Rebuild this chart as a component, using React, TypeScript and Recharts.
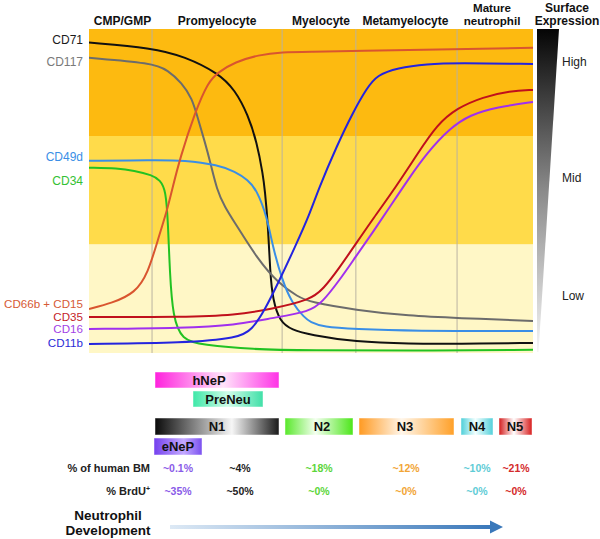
import React from "react";
import { ComposedChart, Line, XAxis, YAxis, ReferenceArea, ReferenceLine } from "recharts";

// ---- data (x: % of developmental time axis, y: relative surface expression 0-100) ----
const stageBounds = [0, 14.2, 43.5, 60.1, 82.9, 100];
const stageNames = ["CMP/GMP", "Promyelocyte", "Myelocyte", "Metamyelocyte", "Mature\nneutrophil"];
const expressionBands = [0, 33.6, 67, 100];
const expressionLevels = ["Low", "Mid", "High"];

const markerNames = ["CD71", "CD117", "CD49d", "CD34", "CD66b + CD15", "CD35", "CD16", "CD11b"];

const cd71 = [[0, 95.8], [14.2, 94.2], [21.6, 91.5], [29.1, 86.4], [32.9, 81.2], [35.8, 73.5], [37.8, 65.1], [39.2, 54.9], [39.6, 50.3], [40.3, 40.1], [40.8, 24.7], [41.4, 16.4], [43.0, 9.6], [45.7, 7.1], [49.8, 5.6], [59.9, 3.4], [72.3, 2.8], [82.9, 2.8], [100, 3.1]];
const cd117 = [[0, 91.1], [14.2, 89.5], [17.8, 87.3], [20.9, 83.3], [23.2, 78.7], [24.5, 72.5], [26.1, 65.1], [27.3, 59.0], [28.8, 50.3], [30.6, 45.0], [32.9, 40.1], [38.1, 28.7], [42.6, 21.6], [47.1, 17.3], [49.8, 15.7], [59.9, 13.3], [72.3, 11.4], [82.9, 10.8], [100, 9.9]];
const cd49d = [[0, 59.3], [14.2, 59.5], [21.6, 59.5], [29.1, 58.0], [32.9, 56.0], [35.8, 53.4], [37.8, 50.3], [40.1, 42.0], [41.4, 32.7], [43.5, 22.5], [45.7, 15.4], [48.6, 10.8], [49.8, 9.6], [52.7, 8.0], [59.9, 7.4], [72.3, 6.8], [100, 6.8]];
const cd34 = [[0, 57.2], [6.5, 57.0], [10.1, 56.3], [14.2, 54.9], [16.0, 53.4], [17.3, 50.3], [17.8, 40.1], [18.2, 24.7], [18.9, 11.1], [20.9, 4.0], [25.5, 2.5], [36.7, 1.1], [49.8, 0.8], [72.0, 0.7], [100, 1.0]];
const cd66bCd15 = [[0, 13.6], [5.2, 15.4], [10.4, 18.5], [13.3, 24.7], [15.5, 34.9], [17.6, 44.1], [18.7, 50.3], [20.5, 60.2], [23.9, 74.4], [26.8, 83.6], [29.1, 86.7], [32.9, 89.8], [38.1, 92.0], [43.5, 92.9], [49.8, 93.0], [59.9, 93.2], [82.9, 93.8], [100, 94.2]];
const cd35 = [[0, 11.1], [21.6, 11.1], [32.9, 11.7], [41.2, 13.6], [49.8, 16.4], [52.7, 19.6], [56.5, 26.5], [60.0, 33.5], [64.0, 41.5], [69.0, 51.0], [74.0, 61.5], [78.4, 70.5], [82.9, 75.6], [88.7, 79.0], [94.8, 80.9], [100, 81.2]];
const cd16 = [[0, 7.4], [21.6, 7.7], [32.9, 8.6], [41.2, 10.8], [49.8, 12.8], [52.5, 15.6], [56.5, 22.6], [60.0, 29.6], [64.0, 37.4], [68.0, 45.6], [72.0, 53.8], [76.1, 61.7], [81.3, 69.4], [85.8, 73.5], [91.9, 75.9], [100, 77.5]];
const cd11b = [[0, 2.8], [21.6, 3.1], [33.6, 4.6], [36.7, 7.1], [39.6, 13.3], [42.6, 21.6], [46.4, 32.7], [49.8, 43.2], [51.6, 50.3], [55.9, 64.2], [59.5, 74.4], [62.6, 81.8], [64.9, 85.8], [69.4, 88.0], [76.1, 89.2], [82.9, 89.5], [100, 89.2]];

const subsetNames = ["hNeP", "PreNeu", "N1", "eNeP", "N2", "N3", "N4", "N5"];
const rowTitles = ["% of human BM", "% BrdU"];
const bmPercent = ["~0.1%", "~4%", "~18%", "~12%", "~10%", "~21%"];
const brduPercent = ["~35%", "~50%", "~0%", "~0%", "~0%", "~0%"];
const axisTitle = ["Neutrophil", "Development"];
const expressionTitle = ["Surface", "Expression"];

const markerSeries = [cd71, cd117, cd49d, cd34, cd66bCd15, cd35, cd16, cd11b];

export default function App() {
  const W = 600, H = 539;
  const plot = { left: 89, top: 29, right: 533, bottom: 353 };
  const sx = (v: number) => plot.left + (v / 100) * (plot.right - plot.left);
  const font = "'Liberation Sans', Arial, Helvetica, sans-serif";

  const lineColors = ["#111111", "#6c6c6c", "#3a8ee6", "#22c222", "#d9552f", "#c0101c", "#a030ee", "#2424de"];
  const labelColors = ["#1a1a1a", "#7a7a7a", "#3b8fe6", "#33c133", "#d65a35", "#c41e2a", "#a23fe6", "#2b2bd6"];
  const labelY = [44, 66, 161, 185, 307.5, 320.5, 333, 346.5];
  const labelSize = [12, 12, 12, 12, 11.6, 11.6, 11.6, 11.6];
  const bandFills = ["#fff7c6", "#ffdb4a", "#fdba10"];
  const levelY = [300, 182, 66];
  const headerShift = [2, 0, 2, -1, -3];

  const boxes = [
    { x: 155, y: 372, w: 124, h: 16, grad: "gH", tx: 209 },
    { x: 193, y: 391, w: 70, h: 16, grad: "gP", tx: 228 },
    { x: 155, y: 418, w: 124, h: 17, grad: "gN1", tx: 217 },
    { x: 154, y: 438, w: 48, h: 17, grad: "gE", tx: 178 },
    { x: 285, y: 418, w: 68, h: 17, grad: "gN2", tx: 322 },
    { x: 359, y: 418, w: 95, h: 17, grad: "gN3", tx: 405 },
    { x: 461, y: 418, w: 32, h: 17, grad: "gN4", tx: 477 },
    { x: 499, y: 418, w: 33, h: 17, grad: "gN5", tx: 515 },
  ];
  const grads: Record<string, string[]> = {
    gH: ["#ff22dd", "#ffe4fa", "#ff33e6"],
    gP: ["#3ee8a8", "#d0fce9", "#40e0a8"],
    gN1: ["#0a0a0a", "#f6f6f6", "#1a1a1a"],
    gE: ["#7440ee", "#c4aaff", "#7a50f0"],
    gN2: ["#58e82a", "#f4fff0", "#4ce61a"],
    gN3: ["#ff9a22", "#fff6ea", "#ffa028"],
    gN4: ["#4ecfd9", "#f2ffff", "#52d0da"],
    gN5: ["#d41c1c", "#ffffff", "#d81e1e"],
  };
  const mids: Record<string, number> = { gH: 0.55, gP: 0.5, gN1: 0.62, gE: 0.62, gN2: 0.45, gN3: 0.45, gN4: 0.45, gN5: 0.45 };
  const valueX = [178, 240, 319, 406, 477, 516];
  const valueColors = ["#8a5be8", "#222222", "#5cd63a", "#f2a535", "#5fccd6", "#d42a2a"];

  return (
    <div style={{ position: "absolute", left: 0, top: 0, width: W, height: H, background: "#fff" }}>
      <ComposedChart
        width={W}
        height={H}
        margin={{ top: plot.top, left: plot.left, right: W - plot.right, bottom: H - plot.bottom }}
      >
        <XAxis type="number" dataKey="x" domain={[0, 100]} hide allowDataOverflow />
        <YAxis type="number" dataKey="y" domain={[0, 100]} hide allowDataOverflow />
        {bandFills.map((f, i) => (
          <ReferenceArea key={"b" + i} x1={0} x2={100} y1={expressionBands[i]} y2={expressionBands[i + 1]} fill={f} fillOpacity={1} stroke="none" />
        ))}
        {stageBounds.slice(1, -1).map((b, i) => (
          <ReferenceLine key={"s" + i} x={b} stroke="#b8b2a0" strokeOpacity={0.8} strokeWidth={1.2} />
        ))}
        {markerSeries.map((s, i) => (
          <Line
            key={markerNames[i]}
            data={s.map(([x, y]) => ({ x, y }))}
            dataKey="y"
            type="basis"
            stroke={lineColors[i]}
            strokeWidth={2}
            dot={false}
            activeDot={false}
            isAnimationActive={false}
          />
        ))}
      </ComposedChart>

      <svg width={W} height={H} style={{ position: "absolute", left: 0, top: 0, pointerEvents: "none" }} fontFamily={font}>
        <defs>
          <linearGradient id="wedge" x1="0" y1="0" x2="0" y2="1">
            <stop offset="0" stopColor="#050505" />
            <stop offset="0.5" stopColor="#8a8a8a" />
            <stop offset="1" stopColor="#f6f6f6" />
          </linearGradient>
          <linearGradient id="arrowG" x1="0" y1="0" x2="1" y2="0">
            <stop offset="0" stopColor="#dde9f5" />
            <stop offset="1" stopColor="#3a78ba" />
          </linearGradient>
          {Object.keys(grads).map((k) => (
            <linearGradient key={k} id={k} x1="0" y1="0" x2="1" y2="0">
              <stop offset="0" stopColor={grads[k][0]} />
              <stop offset={mids[k]} stopColor={grads[k][1]} />
              <stop offset="1" stopColor={grads[k][2]} />
            </linearGradient>
          ))}
        </defs>

        {stageNames.map((n, i) => {
          const cx = sx((stageBounds[i] + stageBounds[i + 1]) / 2) + headerShift[i];
          const parts = n.split("\n");
          return parts.map((p, j) => (
            <text key={n + j} x={cx} y={parts.length === 2 ? 11.5 + j * 13.5 : 25} textAnchor="middle" fontSize={parts.length === 2 ? 11.6 : 12} fontWeight="bold" fill="#111">
              {p}
            </text>
          ));
        })}

        {markerNames.map((n, i) => (
          <text key={n} x={83} y={labelY[i]} textAnchor="end" fontSize={labelSize[i]} fill={labelColors[i]}>
            {n}
          </text>
        ))}

        {expressionTitle.map((t, i) => (
          <text key={t} x={567} y={11.5 + i * 13.5} textAnchor="middle" fontSize={12} fontWeight="bold" fill="#111">
            {t}
          </text>
        ))}
        <polygon points="537,29 559,29 538.5,352 537,352" fill="url(#wedge)" />
        {expressionLevels.map((l, i) => (
          <text key={l} x={562} y={levelY[i]} fontSize={12} fill="#222">
            {l}
          </text>
        ))}

        {boxes.map((b, i) => (
          <g key={subsetNames[i]}>
            <rect x={b.x} y={b.y} width={b.w} height={b.h} fill={`url(#${b.grad})`} stroke="#ffffff" strokeOpacity={0.6} strokeWidth={0.8} />
            <text x={b.tx} y={b.y + b.h / 2 + 4.5} textAnchor="middle" fontSize={13} fontWeight="bold" fill="#111">
              {subsetNames[i]}
            </text>
          </g>
        ))}

        <text x={150} y={472} textAnchor="end" fontSize={11} fontWeight="bold" fill="#222">
          {rowTitles[0]}
        </text>
        <text x={150} y={495} textAnchor="end" fontSize={11} fontWeight="bold" fill="#222">
          {rowTitles[1]}
          <tspan fontSize={7} dy={-4}>+</tspan>
        </text>
        {bmPercent.map((v, i) => (
          <text key={"bm" + i} x={valueX[i]} y={472} textAnchor="middle" fontSize={10.5} fontWeight="bold" fill={valueColors[i]}>
            {v}
          </text>
        ))}
        {brduPercent.map((v, i) => (
          <text key={"br" + i} x={valueX[i]} y={495} textAnchor="middle" fontSize={10.5} fontWeight="bold" fill={valueColors[i]}>
            {v}
          </text>
        ))}

        {axisTitle.map((t, i) => (
          <text key={t} x={108} y={519.5 + i * 15} textAnchor="middle" fontSize={13.5} fontWeight="bold" fill="#111">
            {t}
          </text>
        ))}
        <rect x={170} y={525} width={322} height={4} fill="url(#arrowG)" />
        <polygon points="490,520.5 503,527 490,533.5" fill="#3a78ba" />
      </svg>
    </div>
  );
}
